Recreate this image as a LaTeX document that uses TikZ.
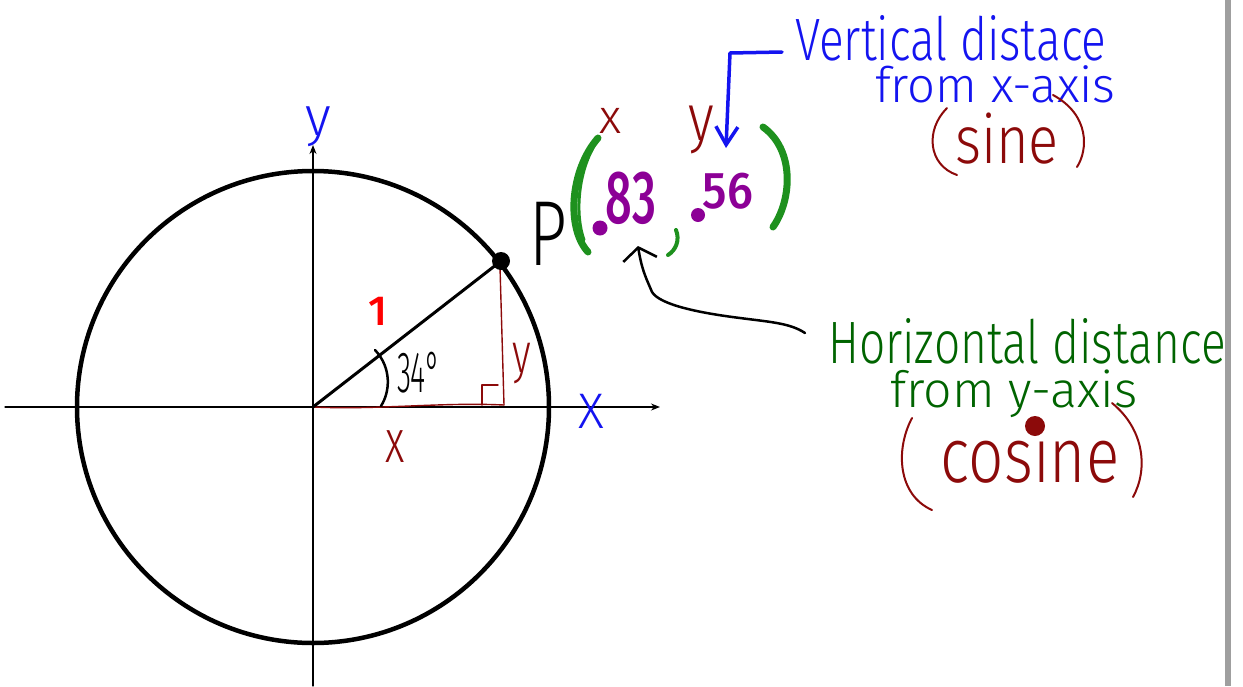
\documentclass[tikz,border=0pt]{standalone}
\usepackage{fontspec}
\setmainfont{Fira Sans}[UprightFont={* Light},BoldFont={* Medium}]
\usetikzlibrary{arrows.meta}
\definecolor{hwblue}{RGB}{20,20,240}
\definecolor{hwgreen}{RGB}{0,100,0}
\definecolor{brgreen}{RGB}{30,145,30}
\definecolor{hwred}{RGB}{140,10,10}
\definecolor{hwpurple}{RGB}{140,0,150}
\newcommand{\fs}[1]{\fontsize{#1}{#1}\selectfont}
\newcommand{\ys}[2]{\scalebox{1}[#1]{#2}}
\begin{document}
\begin{tikzpicture}[x=1pt,y=-1pt,line cap=round,line join=round,
  lbl/.style={inner sep=0pt,anchor=base},
  note/.style={inner sep=0pt,anchor=north west,align=left},
  axis/.style={line width=1.3,-{Stealth[length=9,width=7]}},
  redline/.style={hwred,line width=1.4},
  paren/.style={brgreen,line width=7},
  thinparen/.style={hwred,line width=2}]
\useasboundingbox (0,0) rectangle (1243,686);
\fill[white] (0,0) rectangle (1243,686);
\fill[gray!75] (1225,0) rectangle (1231,686);
% axes and circle
\coordinate (O) at (313,407);
\coordinate (xl) at (5,407);
\coordinate (xr) at (660,407);
\coordinate (yb) at (313,686);
\coordinate (yt) at (313,145);
\draw[axis] (xl) -- (xr);
\draw[axis] (yb) -- (yt);
\draw[line width=4.5] (O) circle[radius=236];
% triangle
\coordinate (P) at (501,261);
\coordinate (F) at (504,405);
\draw[redline] (O) .. controls (380,410) and (440,402) .. (F);
\draw[redline] (F) -- (500,267);
\draw[redline] (482,405) -- (482,385) -- (498,385);
\draw[line width=3] (O) -- (P);
\fill (P) circle[radius=9];
\draw[line width=2.5] (375,350) .. controls (392,368) and (390,392) .. (381,406);
% labels on the circle
\node[lbl,hwblue] (ylab) at (318,135) {\fs{55}y};
\node[lbl,hwblue] (xlab) at (591,428) {\fs{50}X};
\node[lbl,hwred] (xseg) at (395,462) {\fs{42}\ys{1.45}{x}};
\node[lbl,hwred] (yseg) at (522,372) {\fs{40}\ys{1.4}{y}};
\node[lbl,red] (one) at (378,325) {\fs{42}\textbf{1}};
\node[lbl] (ang) at (419,392) {\fs{29}\ys{2}{34°}};
% point P
\node[lbl] (Plbl) at (548,265) {\fs{66}\ys{1.4}{P}};
\draw[paren] (598,138) .. controls (570,170) and (566,228) .. (588,252);
\draw[brgreen,line width=3] (593,148) .. controls (578,175) and (575,215) .. (584,240);
\draw[paren] (763,127) .. controls (795,150) and (792,200) .. (773,227);
\draw[paren,line width=4] (676,230) .. controls (680,240) and (676,250) .. (668,255);
\fill[hwpurple] (600,228) circle[radius=7.5];
\fill[hwpurple] (698,215) circle[radius=7];
\node[lbl,hwpurple] (n83) at (631,223) {\fs{47}\ys{1.6}{\bfseries 83}};
\node[lbl,hwpurple] (n56) at (728,208) {\fs{47}\ys{1.1}{\bfseries 56}};
\node[lbl,hwred] (xsm) at (611,133) {\fs{48}x};
\node[lbl,hwred] (ysm) at (701,140) {\fs{55}\ys{1.2}{y}};
% vertical distance note
\node[note,hwblue,font={\fontsize{46}{42}\selectfont}] (vert) at (795,15)
  {\ys{1.3}{Vertical distace}\\\hspace*{80pt}{\fs{49}from x-axis}};
\node[lbl,hwred] (sine) at (1007,163) {\fs{56}\ys{1.2}{sine}};
\draw[thinparen] (947,108) .. controls (925,130) and (928,165) .. (957,175);
\draw[thinparen] (1053,95) .. controls (1090,115) and (1088,150) .. (1077,167);
\coordinate (vstart) at (782,52);
\coordinate (vtip) at (726,148);
\draw[hwblue,line width=3.5,-{Straight Barb[length=18,width=22]}] (vstart) -- (730,53) -- (vtip);
% horizontal distance note
\node[note,hwgreen,font={\fontsize{46}{44}\selectfont}] (horiz) at (828,318)
  {\ys{1.3}{Horizontal distance}\\\hspace*{62pt}{\fs{50}from y-axis}};
\node[lbl,hwred] (cosine) at (1030,482) {\fs{62}\ys{1.25}{cosine}};
\draw[thinparen] (912,418) .. controls (895,450) and (898,495) .. (932,510);
\draw[thinparen] (1112,403) .. controls (1145,430) and (1148,470) .. (1133,497);
\fill[hwred] (1035,426) circle[radius=10];
\coordinate (hstart) at (805,333);
\coordinate (htip) at (638,246);
\draw[line width=2.5,-{Straight Barb[length=12,width=34]}] (hstart) .. controls (790,323) and (770,322) .. (740,318) .. controls (700,313) and (660,305) .. (652,292) .. controls (648,282) and (642,272) .. (htip);
\end{tikzpicture}
\end{document}
